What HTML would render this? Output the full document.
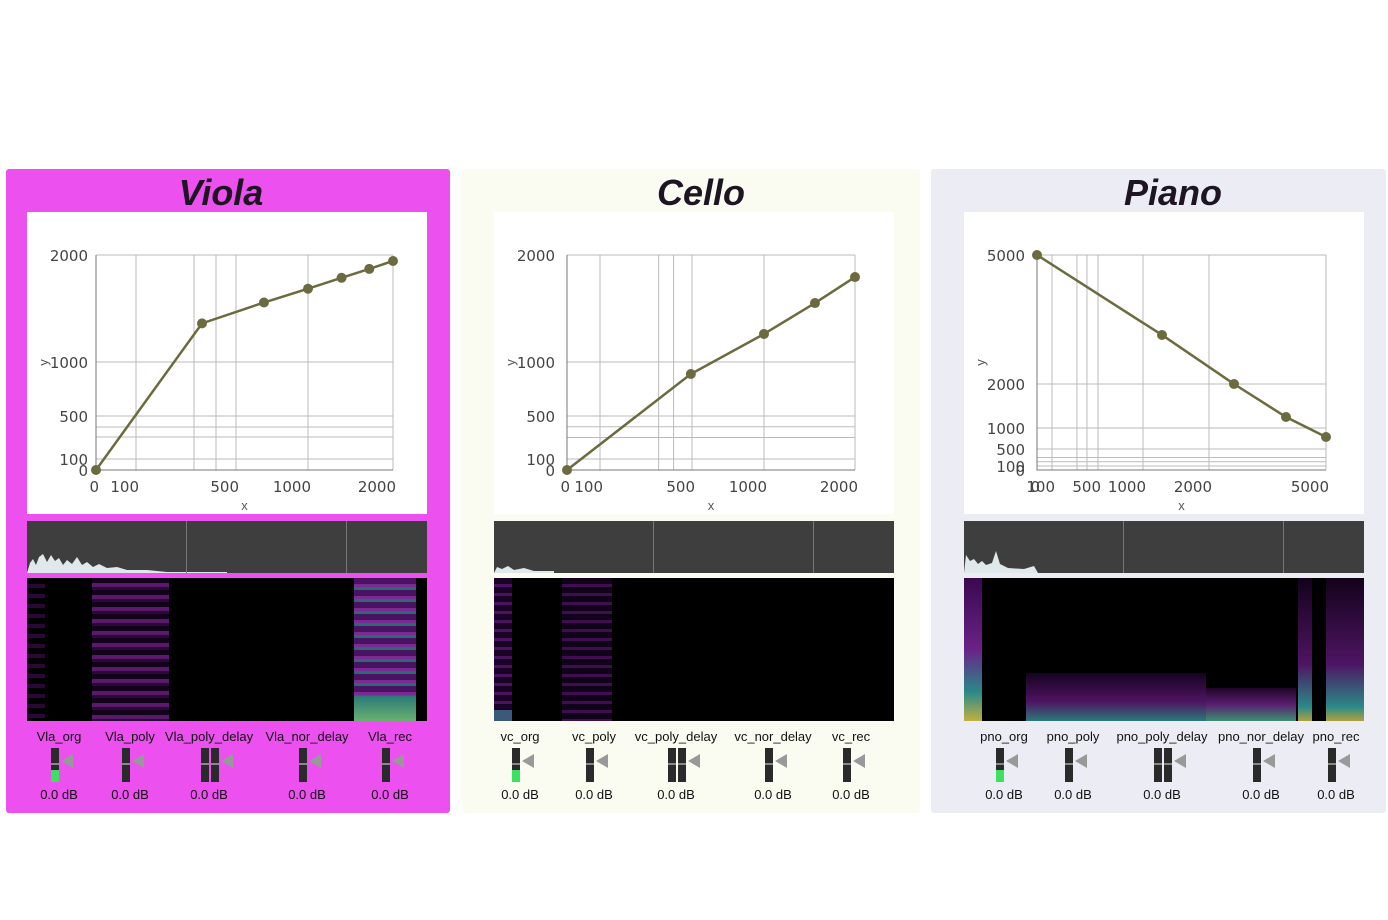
<!DOCTYPE html>
<html><head><meta charset="utf-8"><style>
body{margin:0;width:1388px;height:920px;background:#fff;position:relative;overflow:hidden;font-family:"Liberation Sans",sans-serif}
.panel{position:absolute;top:169px;height:644px;border-radius:3px}
.title{position:absolute;top:172px;font:italic bold 36px "Liberation Sans",sans-serif;color:#1d1522;text-align:center;width:300px}
.box{position:absolute;top:212px;width:400px;height:302px;background:#fff}
.wave{position:absolute;top:521px;width:400px;height:52px;background:#3e3e3e;overflow:hidden}
.wave .d{position:absolute;top:0;width:1px;height:52px;background:#777}
.spec{position:absolute;top:578px;width:400px;height:143px;background:#000;overflow:hidden}
.spec div{position:absolute;top:0;height:143px}
.lbl{position:absolute;top:729px;font-size:13px;color:#111;transform:translateX(-50%);white-space:nowrap}
.db{position:absolute;top:787px;font-size:13px;color:#111;transform:translateX(-50%);white-space:nowrap}
.meter{position:absolute;top:748px;width:8px;height:34px;background:#2a2a2a}
.meter:after{content:"";position:absolute;left:0;top:15px;width:8px;height:2px;background:#888}
.tri{position:absolute;top:754px;width:0;height:0;border-top:7px solid transparent;border-bottom:7px solid transparent;border-right:12px solid #999}
</style></head><body>
<div class="panel" style="left:6px;width:444px;background:#ec50ef"></div>
<div class="panel" style="left:462px;width:458px;background:#fbfcf1"></div>
<div class="panel" style="left:931px;width:455px;background:#ececf4"></div>
<div class="title" style="left:71px">Viola</div>
<div class="title" style="left:551px">Cello</div>
<div class="title" style="left:1023px">Piano</div>
<div class="box" style="left:27px"></div>
<div class="box" style="left:494px"></div>
<div class="box" style="left:964px"></div>

<div class="wave" style="left:27px"><svg width="400" height="52"><path d="M0,52 L3,42 6,38 9,44 12,36 16,33 20,41 24,34 28,40 32,37 36,44 40,39 45,43 50,36 55,44 60,41 66,46 72,43 80,47 90,46 100,49 120,49 140,51 200,51 200,52Z" fill="#dfe8ea"/></svg><div class="d" style="left:159px"></div><div class="d" style="left:319px"></div></div>
<div class="wave" style="left:494px"><svg width="400" height="52"><path d="M0,52 L3,46 8,48 14,45 20,49 30,47 40,50 60,50 60,52Z" fill="#dfe8ea"/></svg><div class="d" style="left:159px"></div><div class="d" style="left:319px"></div></div>
<div class="wave" style="left:964px"><svg width="400" height="52"><path d="M0,52 L2,34 6,40 10,38 14,43 18,40 22,44 28,42 32,30 36,43 44,47 60,48 70,45 74,52Z" fill="#dfe8ea"/></svg><div class="d" style="left:159px"></div><div class="d" style="left:319px"></div></div>

<div class="spec" style="left:27px">
<div style="left:0;width:18px;background:repeating-linear-gradient(#000 0 6px,#2a0836 6px 10px)"></div>
<div style="left:65px;width:77px;background:repeating-linear-gradient(#12021a 0 5px,#5a1a6a 5px 9px,#2a0838 9px 12px)"></div>
<div style="left:327px;width:62px;background:repeating-linear-gradient(#4a1262 0 6px,#7a2a92 6px 9px,#2a6a72 9px 12px)"></div>
<div style="left:327px;top:118px;width:62px;height:25px;background:linear-gradient(#2a7a78,#6ab070)"></div>
</div>
<div class="spec" style="left:494px">
<div style="left:0;width:18px;background:repeating-linear-gradient(#1a0326 0 6px,#4a1460 6px 9px)"></div>
<div style="left:68px;width:50px;background:repeating-linear-gradient(#100218 0 6px,#3e0e4e 6px 9px)"></div>
<div style="left:0;top:132px;width:18px;height:11px;background:#3a5a7a"></div>
</div>
<div class="spec" style="left:964px">
<div style="left:0;width:18px;background:linear-gradient(#3a0850,#6a2288 50%,#2a8a88 80%,#c0b040)"></div>
<div style="left:62px;top:95px;width:180px;height:48px;background:linear-gradient(#150320,#4e1462 60%,#2a7a7a)"></div>
<div style="left:242px;top:110px;width:90px;height:33px;background:linear-gradient(#200528,#5a1e70 50%,#3a9070)"></div>
<div style="left:334px;width:66px;background:linear-gradient(#12021a,#4e1462 60%,#2a8a88 90%,#b0a040)"></div>
<div style="left:348px;width:14px;background:#000"></div>
</div>

<svg id="charts" width="1388" height="920" style="position:absolute;left:0;top:0"></svg>

<div id="mixers"></div>

<script>
// ---- Chart data ----
const violaX = [0, 364, 694, 1000, 1395, 1721, 2000];
const violaY = [0, 1361, 1556, 1685, 1787, 1870, 1944];
const celloX = [0, 495, 1000, 1560, 2000];
const celloY = [0, 889, 1262, 1551, 1794];
const pianoX = [0, 1288, 2641, 3974, 5000];
const pianoY = [5000, 3140, 2000, 1250, 786];
const violaXTicks = [0, 100, 500, 1000, 2000];
const violaYTicks = [0, 100, 500, 1000, 2000];
const celloXTicks = [0, 100, 500, 1000, 2000];
const celloYTicks = [0, 100, 500, 1000, 2000];
const pianoXTicks = [0, 100, 500, 1000, 2000, 5000];
const pianoYTicks = [0, 100, 500, 1000, 2000, 5000];
const violaXGrid = [0, 100, 332, 420, 500, 1000, 2000];
const violaYGrid = [0, 100, 305, 398, 500, 1000, 2000];
const celloXGrid = [0, 100, 355, 420, 500, 1000, 2000];
const celloYGrid = [0, 100, 300, 400, 500, 1000, 2000];
const pianoXGrid = [0, 100, 317, 404, 500, 1000, 2000, 5000];
const pianoYGrid = [0, 100, 200, 300, 500, 1000, 2000, 5000];

const NS = 'http://www.w3.org/2000/svg';
const svg = document.getElementById('charts');
function mk(tag, attrs){const e=document.createElementNS(NS,tag);for(const k in attrs)e.setAttribute(k,attrs[k]);svg.appendChild(e);return e;}
function piece(knotsV, knotsP){return v=>{for(let i=0;i<knotsV.length-1;i++){if(v<=knotsV[i+1]||i===knotsV.length-2){const t=(v-knotsV[i])/(knotsV[i+1]-knotsV[i]);return knotsP[i]+t*(knotsP[i+1]-knotsP[i]);}}}}

function chart(name, xs, ys, xT, yT, xG, yG, xScale, yScale, x0, x1, y0, y1, yLabelX){
  xG.forEach(v=>{const l=mk('line',{x1:xScale(v),x2:xScale(v),y1:y0,y2:y1,stroke:'#bbb','stroke-width':1});
    
    });
  yG.forEach(v=>{const l=mk('line',{x1:x0,x2:x1,y1:yScale(v),y2:yScale(v),stroke:'#bbb','stroke-width':1});
    
    });
  const ax=mk('path',{d:`M${x0},${y0}V${y1}H${x1}`,stroke:'#777',fill:'none'});
  
  
  xT.forEach(v=>{const t=mk('text',{x:xScale(v)+3,y:y1+22,'text-anchor':'end','font-size':15,fill:'#444','font-family':'DejaVu Sans, sans-serif'});t.textContent=v;
    
    });
  yT.forEach(v=>{const t=mk('text',{x:yLabelX,y:yScale(v)+6,'text-anchor':'end','font-size':15,fill:'#444','font-family':'DejaVu Sans, sans-serif'});t.textContent=v;
    
    });
  const xt=mk('text',{x:(x0+x1)/2,y:y1+40,'text-anchor':'middle','font-size':13,fill:'#555'});xt.textContent='x';
  
  
  const yx=yLabelX-40;
  const yt=mk('text',{x:yx,y:(y0+y1)/2,'text-anchor':'middle','font-size':13,fill:'#555',transform:`rotate(-90 ${yx} ${(y0+y1)/2})`});yt.textContent='y';
  
  
  const pts=xs.map((x,i)=>[xScale(x),yScale(ys[i])]);
  const ln=mk('polyline',{points:pts.map(p=>p.join(',')).join(' '),fill:'none',stroke:'#6b6b3f','stroke-width':2.5});
  
  
  pts.forEach(p=>{const c=mk('circle',{cx:p[0],cy:p[1],r:5,fill:'#6b6b3f'});
    
    });
}
chart('viola', violaX, violaY, violaXTicks, violaYTicks, violaXGrid, violaYGrid,
  piece([0,100,500,1000,2000],[96,136,236,308,393]), piece([0,100,500,1000,2000],[470,459,416,362,255]), 96,393,255,470,88);
chart('cello', celloX, celloY, celloXTicks, celloYTicks, celloXGrid, celloYGrid,
  piece([0,100,500,1000,2000],[567,600,692,764,855]), piece([0,100,500,1000,2000],[470,459,416,362,255]), 567,855,255,470,555);
chart('piano', pianoX, pianoY, pianoXTicks, pianoYTicks, pianoXGrid, pianoYGrid,
  piece([0,100,500,1000,2000,5000],[1037,1052,1098,1143,1209,1326]), piece([0,100,500,1000,2000,5000],[470,466,449,428,384,255]), 1037,1326,255,470,1025);

// ---- Mixers ----
const channels = [
  ['Vla_org','Vla_poly','Vla_poly_delay','Vla_nor_delay','Vla_rec'],
  ['vc_org','vc_poly','vc_poly_delay','vc_nor_delay','vc_rec'],
  ['pno_org','pno_poly','pno_poly_delay','pno_nor_delay','pno_rec']];
const centers = [[59,130,209,307,390],[520,594,676,773,851],[1004,1073,1162,1261,1336]];
const mix = document.getElementById('mixers');
channels.forEach((row,r)=>row.forEach((nm,i)=>{
  const cx=centers[r][i];
  const l=document.createElement('div');l.className='lbl';l.style.left=cx+'px';l.textContent=nm;
  
  mix.appendChild(l);
  const dual=nm.includes('poly_delay');
  const n=dual?2:1;
  for(let k=0;k<n;k++){const m=document.createElement('div');m.className='meter';m.style.left=(cx-8+k*10)+'px';
    if(i===0&&k===0){m.style.background='linear-gradient(#2a2a2a 0 22px,#3ee060 22px)';}
    
    mix.appendChild(m);}
  const t=document.createElement('div');t.className='tri';t.style.left=(cx+2+(n-1)*10)+'px';
  
  mix.appendChild(t);
  const d=document.createElement('div');d.className='db';d.style.left=cx+'px';d.textContent='0.0 dB';
  
  mix.appendChild(d);
}));
</script>
</body></html>
